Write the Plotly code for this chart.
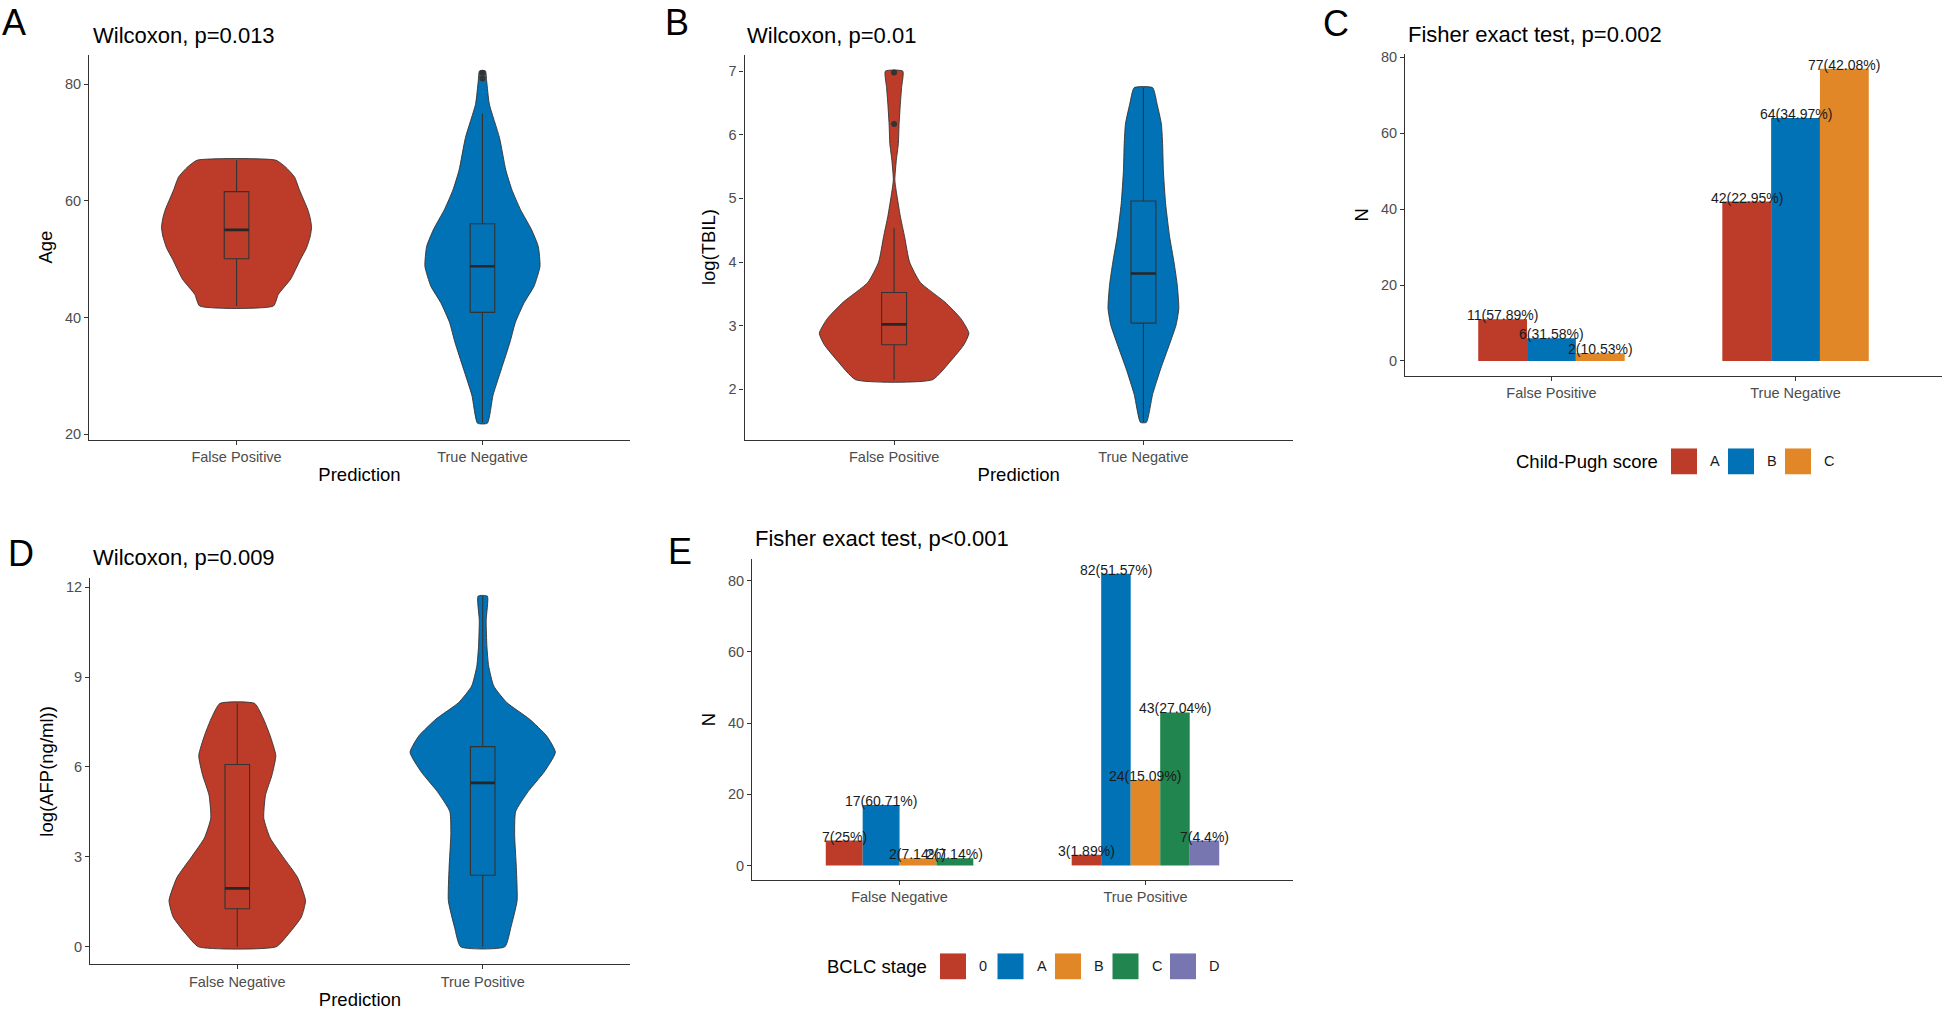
import plotly.graph_objects as go

W, H = 1946, 1012
FONT = "Liberation Sans, Arial, Helvetica, sans-serif"
RED, BLUE, ORANGE, GREEN, PURPLE = "#BC3C29", "#0072B5", "#E18727", "#20854E", "#7876B1"
LINE = "#333333"

# ---------------- data ----------------
# Panel A: Age by prediction (density profile; half-widths in category units)
a_groups = ["False Positive", "True Negative"]
age_fp_lvl = [42, 44, 46.6, 50, 52, 54, 55.5, 57, 58.5, 60.2, 62, 64.1, 65.8, 67]
age_fp_hw = [0.15, 0.17, 0.22, 0.26, 0.285, 0.30, 0.305, 0.30, 0.29, 0.273, 0.255, 0.236, 0.20, 0.16]
age_tn_lvl = [21.9, 26.7, 31.2, 35.8, 39.2, 42.6, 45.4, 48.8, 52.2, 55.05, 58.5, 61.9, 65.3, 70.9, 76.6, 80.6, 82.3]
age_tn_hw = [0.02, 0.043, 0.077, 0.112, 0.134, 0.17, 0.21, 0.234, 0.227, 0.20, 0.155, 0.12, 0.095, 0.069, 0.028, 0.017, 0.012]
# box stats: lower whisker, q1, median, q3, upper whisker
age_fp_box = [42, 50.1, 55.05, 61.6, 67]
age_tn_box = [22, 40.9, 48.8, 56.1, 75]
age_fp_out = []
age_tn_out = [81, 82]

# Panel B: log(TBIL)
b_groups = ["False Positive", "True Negative"]
tbil_fp_lvl = [2.15, 2.44, 2.7, 2.88, 3.11, 3.37, 3.68, 4.0, 4.4, 4.72, 5.08, 5.29, 5.6, 5.86, 6.17, 6.48, 6.74, 7.0]
tbil_fp_hw = [0.154, 0.226, 0.28, 0.30, 0.268, 0.204, 0.105, 0.062, 0.042, 0.025, 0.01, 0.003, 0.009, 0.017, 0.02, 0.025, 0.03, 0.035]
tbil_tn_lvl = [1.48, 1.92, 2.33, 2.7, 3.01, 3.27, 3.63, 3.99, 4.4, 4.92, 5.44, 5.86, 6.17, 6.48, 6.74]
tbil_tn_hw = [0.012, 0.037, 0.07, 0.104, 0.131, 0.142, 0.136, 0.123, 0.105, 0.089, 0.08, 0.077, 0.072, 0.055, 0.037]
tbil_fp_box = [2.15, 2.70, 3.02, 3.52, 4.53]
tbil_tn_box = [1.48, 3.04, 3.82, 4.96, 6.74]
tbil_fp_out = [6.17, 6.98]
tbil_tn_out = []

# Panel C: Child-Pugh score counts
c_groups = ["False Positive", "True Negative"]
cp_scores = ["A", "B", "C"]
cp_fp = [11, 6, 2]
cp_tn = [42, 64, 77]

# Panel D: log(AFP(ng/ml))
d_groups = ["False Negative", "True Positive"]
afp_fn_lvl = [0, 0.44, 0.99, 1.54, 2.31, 2.97, 3.63, 4.29, 5.06, 5.72, 6.38, 7.04, 7.6, 8.12]
afp_fn_hw = [0.158, 0.21, 0.261, 0.278, 0.246, 0.189, 0.134, 0.108, 0.115, 0.141, 0.157, 0.134, 0.107, 0.071]
afp_tp_lvl = [0, 0.66, 1.54, 2.64, 3.74, 4.51, 5.17, 5.83, 6.49, 7.04, 7.6, 8.15, 8.7, 9.37, 10.03, 10.9, 11.7]
afp_tp_hw = [0.09, 0.115, 0.14, 0.137, 0.13, 0.134, 0.184, 0.25, 0.296, 0.26, 0.19, 0.098, 0.045, 0.024, 0.017, 0.014, 0.019]
afp_fn_box = [0, 1.27, 1.95, 6.08, 8.12]
afp_tp_box = [0, 2.39, 5.47, 6.68, 11.7]
afp_fn_out = []
afp_tp_out = []

# Panel E: BCLC stage counts (None = stage absent in that group)
e_groups = ["False Negative", "True Positive"]
bclc_stages = ["0", "A", "B", "C", "D"]
bclc_fn = [7, 17, 2, 2, None]
bclc_tp = [3, 82, 24, 43, 7]

# ---------------- layout helpers ----------------
def xd(x0, x1):
    return [x0 / W, x1 / W]

def yd(top, bottom):
    return [1 - bottom / H, 1 - top / H]

def px(x):
    return x / W

def py(y):
    return 1 - y / H

fig = go.Figure()

axis_common = dict(
    showline=True, linecolor=LINE, linewidth=1.1, mirror=False,
    ticks="outside", ticklen=4, tickwidth=1, tickcolor=LINE,
    tickfont=dict(size=14.5, color="#4D4D4D", family=FONT),
    showgrid=False, zeroline=False,
)

panels = {
    1: dict(x=xd(89, 630), y=yd(50, 438)),
    2: dict(x=xd(744.5, 1293), y=yd(50, 438)),
    3: dict(x=xd(1405, 1942), y=yd(49.5, 373.5)),
    4: dict(x=xd(90, 630), y=yd(578, 967)),
    5: dict(x=xd(752, 1293), y=yd(558.5, 882)),
}

def ax_names(i):
    s = "" if i == 1 else str(i)
    return "x" + s, "y" + s, "xaxis" + s, "yaxis" + s

BOX_HALF = 0.05

def violin_panel(i, groups, profiles, boxes, outs, colors):
    xr, yr, _, _ = ax_names(i)
    for gi, ((lvl, hw), box, out, col) in enumerate(zip(profiles, boxes, outs, colors)):
        c = gi + 1
        # violin outline from the density profile
        xs = [c + w for w in hw] + [c - w for w in reversed(hw)] + [c + hw[0]]
        ys = list(lvl) + list(reversed(lvl)) + [lvl[0]]
        fig.add_trace(go.Scatter(
            x=xs, y=ys, mode="lines", fill="toself", fillcolor=col,
            line=dict(color=LINE, width=0.9, shape="spline", smoothing=0.5),
            xaxis=xr, yaxis=yr, showlegend=False, hoverinfo="skip"))
        # boxplot: whiskers + box from the five statistics
        lf, q1, med, q3, uf = box
        bx = [c, c, None,
              c - BOX_HALF, c + BOX_HALF, c + BOX_HALF, c - BOX_HALF, c - BOX_HALF, None,
              c, c]
        by = [lf, q1, None,
              q1, q1, q3, q3, q1, None,
              q3, uf]
        fig.add_trace(go.Scatter(
            x=bx, y=by, mode="lines", line=dict(color=LINE, width=1.1),
            xaxis=xr, yaxis=yr, showlegend=False, hoverinfo="skip"))
        fig.add_trace(go.Scatter(
            x=[c - BOX_HALF, c + BOX_HALF], y=[med, med], mode="lines",
            line=dict(color="#262626", width=2.6), xaxis=xr, yaxis=yr,
            showlegend=False, hoverinfo="skip"))
        if out:
            fig.add_trace(go.Scatter(
                x=[c] * len(out), y=out, mode="markers",
                marker=dict(color=LINE, size=6), xaxis=xr, yaxis=yr,
                showlegend=False, hoverinfo="skip"))

def bar_panel(i, groups, cats, counts_by_group, colors):
    xr, yr, _, _ = ax_names(i)
    per_cat = {k: dict(x=[], y=[], w=[], o=[]) for k in range(len(cats))}
    labels = []
    for gi, counts in enumerate(counts_by_group):
        present = [k for k, v in enumerate(counts) if v is not None]
        n = len(present)
        w = 0.6 / n
        total = sum(counts[k] for k in present)
        for rank, k in enumerate(present):
            off = -0.3 + rank * w
            per_cat[k]["x"].append(gi + 1)
            per_cat[k]["y"].append(counts[k])
            per_cat[k]["w"].append(w)
            per_cat[k]["o"].append(off)
            pct = round(100 * counts[k] / total, 2)
            labels.append((gi + 1 + off + w / 2, counts[k], f"{counts[k]}({pct:g}%)"))
    for k, cat in enumerate(cats):
        d = per_cat[k]
        fig.add_trace(go.Bar(
            x=d["x"], y=d["y"], width=d["w"], offset=d["o"], name=cat,
            marker=dict(color=colors[k], line=dict(width=0)),
            xaxis=xr, yaxis=yr, showlegend=False, hoverinfo="skip"))
    for (x, y, t) in labels:
        fig.add_annotation(x=x, y=y, xref=xr, yref=yr, text=t, showarrow=False,
                           yanchor="middle", xanchor="center", yshift=4,
                           font=dict(size=14, color="#1A1A1A", family=FONT))

violin_panel(1, a_groups, [(age_fp_lvl, age_fp_hw), (age_tn_lvl, age_tn_hw)],
             [age_fp_box, age_tn_box], [age_fp_out, age_tn_out], [RED, BLUE])
violin_panel(2, b_groups, [(tbil_fp_lvl, tbil_fp_hw), (tbil_tn_lvl, tbil_tn_hw)],
             [tbil_fp_box, tbil_tn_box], [tbil_fp_out, tbil_tn_out], [RED, BLUE])
bar_panel(3, c_groups, cp_scores, [cp_fp, cp_tn], [RED, BLUE, ORANGE])
violin_panel(4, d_groups, [(afp_fn_lvl, afp_fn_hw), (afp_tp_lvl, afp_tp_hw)],
             [afp_fn_box, afp_tp_box], [afp_fn_out, afp_tp_out], [RED, BLUE])
bar_panel(5, e_groups, bclc_stages, [bclc_fn, bclc_tp], [RED, BLUE, ORANGE, GREEN, PURPLE])

ranges = {1: [19.1, 85.1], 2: [1.21, 7.26], 3: [-3.85, 80.85], 4: [-0.585, 12.29], 5: [-4.1, 86.1]}
dticks = {1: 20, 2: 1, 3: 20, 4: 3, 5: 20}
ytitles = {1: "Age", 2: "log(TBIL)", 3: "N", 4: "log(AFP(ng/ml))", 5: "N"}
xcats = {1: a_groups, 2: b_groups, 3: c_groups, 4: d_groups, 5: e_groups}
xtitles = {1: "Prediction", 2: "Prediction", 3: None, 4: "Prediction", 5: None}

lay = {}
for i in range(1, 6):
    xr, yr, xk, yk = ax_names(i)
    xa = dict(axis_common, domain=panels[i]["x"], range=[0.4, 2.6], tickvals=[1, 2],
              ticktext=xcats[i], anchor=yr, fixedrange=True)
    if xtitles[i]:
        xa["title"] = dict(text=xtitles[i], standoff=4, font=dict(size=18.5, color="#000000", family=FONT))
    ya = dict(axis_common, domain=panels[i]["y"], range=ranges[i], dtick=dticks[i], tick0=0,
              anchor=xr, fixedrange=True,
              title=dict(text=ytitles[i], standoff=7, font=dict(size=18.5, color="#000000", family=FONT)))
    lay[xk] = xa
    lay[yk] = ya

fig.update_layout(**lay)

# panel titles and letters
titles = [
    ("Wilcoxon, p=0.013", 90.5, 30.5), ("Wilcoxon, p=0.01", 745, 30.5),
    ("Fisher exact test, p=0.002", 1406, 29.5), ("Wilcoxon, p=0.009", 91, 557),
    ("Fisher exact test, p<0.001", 752.5, 537.5),
]
for t, x, y in titles:
    fig.add_annotation(text=t, x=px(x), y=py(y), xref="paper", yref="paper", showarrow=False,
                       xanchor="left", yanchor="middle", font=dict(size=22, color="#000000", family=FONT))
letters = [("A", 0, 18), ("B", 663, 18), ("C", 1321, 19), ("D", 6, 553), ("E", 666, 551)]
for t, x, y in letters:
    fig.add_annotation(text=t, x=px(x), y=py(y), xref="paper", yref="paper", showarrow=False,
                       xanchor="left", yanchor="middle", font=dict(size=36, color="#000000", family=FONT))

# legends (drawn below panels C and E)
def legend(title, cats, colors, title_right, key_left0, step, yc):
    fig.add_annotation(text=title, x=px(title_right), y=py(yc), xref="paper", yref="paper",
                       showarrow=False, xanchor="right", yanchor="middle",
                       font=dict(size=18.5, color="#000000", family=FONT))
    for k, (cat, col) in enumerate(zip(cats, colors)):
        x0 = key_left0 + k * step
        fig.add_shape(type="rect", xref="paper", yref="paper",
                      x0=px(x0), x1=px(x0 + 26), y0=py(yc + 13), y1=py(yc - 13),
                      fillcolor=col, line=dict(width=0))
        fig.add_annotation(text=cat, x=px(x0 + 37), y=py(yc), xref="paper", yref="paper",
                           showarrow=False, xanchor="left", yanchor="middle",
                           font=dict(size=14.5, color="#1A1A1A", family=FONT))

legend("Child-Pugh score", cp_scores, [RED, BLUE, ORANGE], 1660, 1671, 57, 460)
legend("BCLC stage", bclc_stages, [RED, BLUE, ORANGE, GREEN, PURPLE], 929, 940, 57.5, 969)

fig.update_layout(
    width=W, height=H, autosize=False,
    margin=dict(l=0, r=0, t=0, b=0),
    paper_bgcolor="white", plot_bgcolor="white",
    font=dict(family=FONT, color="#000000"),
    barmode="overlay", showlegend=False,
)

fig.write_html("out.html", config={"displayModeBar": False},
               post_script="document.body.style.margin='0';document.body.style.overflow='hidden';")
